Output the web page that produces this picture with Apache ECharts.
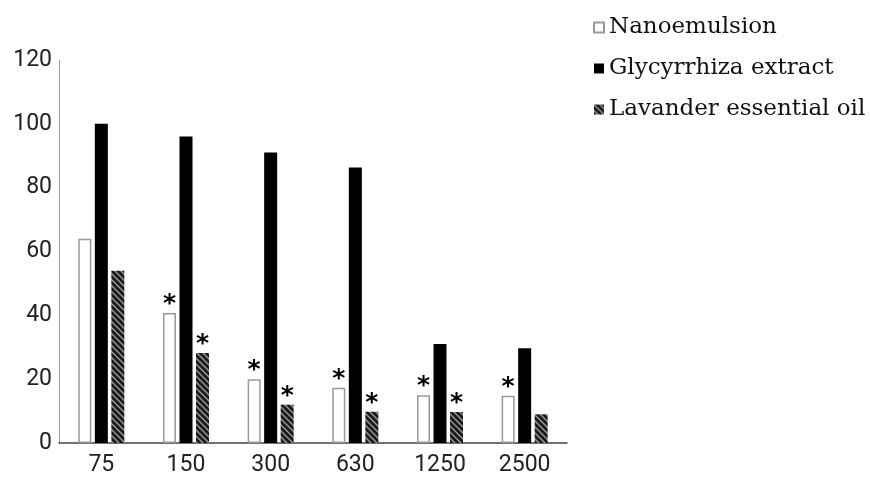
<!DOCTYPE html>
<html><head><meta charset="utf-8">
<script src="https://cdn.jsdelivr.net/npm/echarts@6/dist/echarts.min.js"></script>
<style>html,body{margin:0;padding:0;background:#fff}#c{width:870px;height:485px}</style>
</head><body><div id="c"></div>
<script>
var categories = ['75', '150', '300', '630', '1250', '2500'];
var nanoemulsion = [64, 40.7, 20, 17.3, 15, 14.8];
var glycyrrhiza = [100, 96, 91, 86.3, 31, 29.7];
var lavander = [54, 28.2, 12, 9.8, 9.7, 9];
var nanoSig = [false, true, true, true, true, true];
var lavSig = [false, true, true, true, true, false];
var yTicks = [0, 20, 40, 60, 80, 100, 120];

function hatch() {
  var c = document.createElement('canvas');
  c.width = 6; c.height = 6;
  var g = c.getContext('2d');
  g.fillStyle = '#1a1a1a'; g.fillRect(0, 0, 6, 6);
  g.strokeStyle = '#9a9a9a'; g.lineWidth = 1.4;
  g.beginPath();
  g.moveTo(-1, -1); g.lineTo(7, 7);
  g.moveTo(-4, 2); g.lineTo(4, 10);
  g.moveTo(2, -4); g.lineTo(10, 4);
  g.stroke();
  return c;
}
var pat = { image: hatch(), repeat: 'repeat' };

function starLabel(flags) {
  return {
    show: true, position: 'top', distance: -4,
    fontSize: 25, fontWeight: 'bold', color: '#000', fontFamily: 'DejaVu Sans',
    formatter: function (p) { return flags[p.dataIndex] ? '*' : ''; }
  };
}

var chart = echarts.init(document.getElementById('c'));
chart.setOption({
  animation: false,
  grid: { left: 59, right: 303, top: 60, bottom: 42 },
  legend: {
    orient: 'vertical', left: 593, top: 15, icon: 'rect', padding: 0,
    itemWidth: 10, itemHeight: 10, itemGap: 16,
    textStyle: { fontFamily: 'DejaVu Serif', fontSize: 23, color: '#111', lineHeight: 25 },
    data: ['Nanoemulsion', 'Glycyrrhiza extract', 'Lavander essential oil']
  },
  xAxis: {
    type: 'category', data: categories,
    axisLine: { lineStyle: { color: '#444', width: 1.5 } },
    axisTick: { show: false },
    axisLabel: { fontFamily: 'Roboto', fontSize: 23, color: '#222', margin: 11 }
  },
  yAxis: {
    type: 'value', min: yTicks[0], max: yTicks[yTicks.length - 1], interval: 20,
    axisLine: { show: true, lineStyle: { color: '#999', width: 1 } },
    axisTick: { show: false },
    splitLine: { show: false },
    axisLabel: { fontFamily: 'Roboto', fontSize: 23, color: '#222', margin: 7 }
  },
  series: [
    { name: 'Nanoemulsion', type: 'bar', data: nanoemulsion, barWidth: 13, barGap: '27%', barCategoryGap: '45%',
      itemStyle: { color: '#fff', borderColor: '#999', borderWidth: 1.5 }, label: starLabel(nanoSig) },
    { name: 'Glycyrrhiza extract', type: 'bar', data: glycyrrhiza, barWidth: 13, barGap: '27%',
      itemStyle: { color: '#000' } },
    { name: 'Lavander essential oil', type: 'bar', data: lavander, barWidth: 13, barGap: '27%',
      itemStyle: { color: pat }, label: starLabel(lavSig) }
  ]
});
</script></body></html>
